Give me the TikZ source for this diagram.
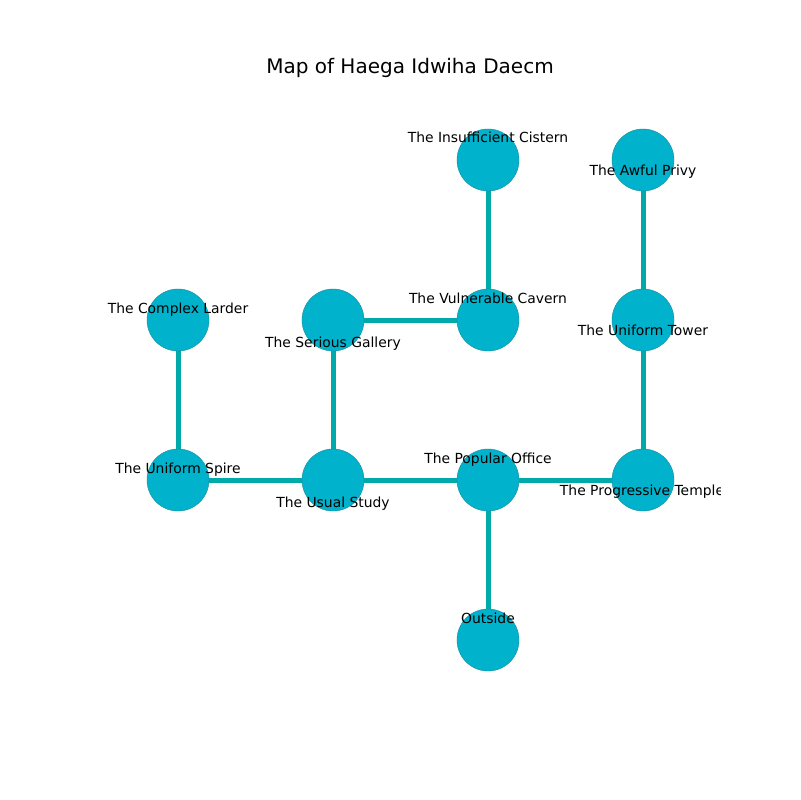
\documentclass[tikz,border=0pt]{standalone}
\usepackage{fontspec}
\setmainfont{DejaVu Sans}
\definecolor{nodefill}{HTML}{00B2CC}
\definecolor{nodeline}{HTML}{1A8C99}
\definecolor{edgecol}{HTML}{00AAAA}
\begin{document}
\begin{tikzpicture}[x=0.01in,y=-0.01in,
  room/.style={circle,fill=nodefill,draw=nodeline,line width=0.3bp,minimum size=0.62in,inner sep=0pt},
  link/.style={draw=edgecol,line width=3.6bp},
  lbl/.style={font=\fontsize{10bp}{12bp}\selectfont,inner sep=0pt,anchor=base}]
\useasboundingbox (0,0) rectangle (800,800);
\node[font=\fontsize{14.4bp}{17bp}\selectfont] (title) at (410,68) {Map of Haega Idwiha Daecm};
\begin{scope}
\clip (100,96) rectangle (720,712);
\coordinate (pc) at (488,160);
\coordinate (pa) at (643,160);
\coordinate (pl) at (178,320);
\coordinate (pg) at (333,320);
\coordinate (pv) at (488,320);
\coordinate (pt) at (643,320);
\coordinate (ps) at (178,480);
\coordinate (pu) at (333,480);
\coordinate (po) at (488,480);
\coordinate (pp) at (643,480);
\coordinate (px) at (488,640);
\draw[link] (pc) -- (pv);
\draw[link] (pa) -- (pt);
\draw[link] (pl) -- (ps);
\draw[link] (pg) -- (pu);
\draw[link] (pg) -- (pv);
\draw[link] (pt) -- (pp);
\draw[link] (ps) -- (pu);
\draw[link] (pu) -- (po);
\draw[link] (po) -- (pp);
\draw[link] (po) -- (px);
\node[room] (c) at (pc) {};
\node[room] (a) at (pa) {};
\node[room] (l) at (pl) {};
\node[room] (g) at (pg) {};
\node[room] (v) at (pv) {};
\node[room] (t) at (pt) {};
\node[room] (s) at (ps) {};
\node[room] (u) at (pu) {};
\node[room] (o) at (po) {};
\node[room] (p) at (pp) {};
\node[room] (x) at (px) {};
\node[lbl] (lc) at (488,143) {The Insufficient Cistern};
\node[lbl] (la) at (643,175.5) {The Awful Privy};
\node[lbl] (ll) at (178,313) {The Complex Larder};
\node[lbl] (lg) at (333,347) {The Serious Gallery};
\node[lbl] (lv) at (488,303) {The Vulnerable Cavern};
\node[lbl] (lt) at (643,335.5) {The Uniform Tower};
\node[lbl] (ls) at (178,473) {The Uniform Spire};
\node[lbl] (lu) at (333,507) {The Usual Study};
\node[lbl] (lo) at (488,463) {The Popular Office};
\node[lbl] (lp) at (642,495.5) {The Progressive Temple};
\node[lbl] (lx) at (488,623) {Outside};
\end{scope}
\end{tikzpicture}
\end{document}
